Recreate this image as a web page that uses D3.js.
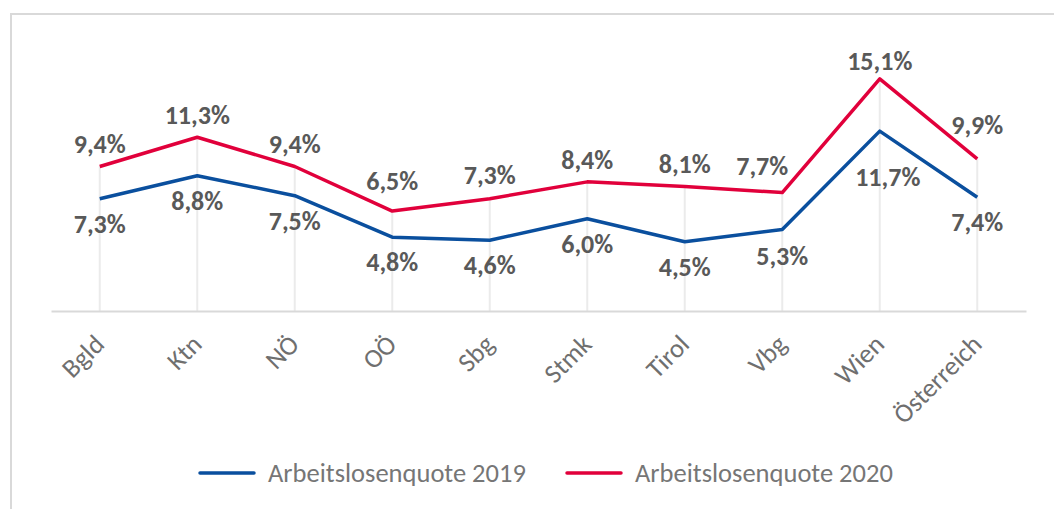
<!DOCTYPE html>
<html>
<head>
<meta charset="utf-8">
<script src="https://cdn.jsdelivr.net/npm/d3@7"></script>
<style>
  body { margin: 0; background: #fff; }
  svg { display: block; font-family: Carlito, Calibri, Lato, sans-serif; }
</style>
</head>
<body>
<div id="chart"></div>
<script>
var regionen = ["Bgld", "Ktn", "NÖ", "OÖ", "Sbg", "Stmk", "Tirol", "Vbg", "Wien", "Österreich"];
var quote2019 = [7.3, 8.8, 7.5, 4.8, 4.6, 6.0, 4.5, 5.3, 11.7, 7.4];
var quote2020 = [9.4, 11.3, 9.4, 6.5, 7.3, 8.4, 8.1, 7.7, 15.1, 9.9];
var serien = ["Arbeitslosenquote 2019", "Arbeitslosenquote 2020"];
var farben = ["#0a4f9e", "#e1003b"];

var W = 1054, H = 509;
var margin = {top: 65, left: 51, right: 28},
    axisY = 311;

// label nudges (dx, dy in px) where labels were moved by hand in the original
var nudge2019 = {"Wien": [8, 21], "Vbg": [0, 1]};
var nudge2020 = {"OÖ": [0, -8], "Sbg": [0, -2], "Vbg": [-20, -5], "Wien": [0, 4], "Österreich": [0, -12]};

var svg = d3.select("#chart").append("svg")
    .attr("width", W)
    .attr("height", H);

// chart frame
svg.append("rect")
    .attr("x", 11).attr("y", 14)
    .attr("width", 1100).attr("height", 600)
    .attr("fill", "none")
    .attr("stroke", "#d9d9d9")
    .attr("stroke-width", 2);

var x = d3.scaleBand()
    .domain(regionen)
    .range([margin.left, W - margin.right]);
var cx = function (c) { return x(c) + x.bandwidth() / 2; };

var y = d3.scaleLinear()
    .domain([0, 16])
    .range([axisY, margin.top]);

var rows = regionen.map(function (c, i) {
    return {cat: c, a: quote2019[i], b: quote2020[i]};
});

// drop lines
svg.append("g").selectAll("line")
    .data(rows)
    .enter().append("line")
    .attr("x1", function (d) { return cx(d.cat); })
    .attr("x2", function (d) { return cx(d.cat); })
    .attr("y1", function (d) { return y(Math.max(d.a, d.b)); })
    .attr("y2", axisY)
    .attr("stroke", "#ebebeb")
    .attr("stroke-width", 2);

// x axis
var xAxis = svg.append("g")
    .attr("transform", "translate(0," + axisY + ")")
    .call(d3.axisBottom(x).tickSize(0).tickSizeOuter(0));
xAxis.select(".domain")
    .attr("stroke", "#d9d9d9")
    .attr("stroke-width", 2);
xAxis.selectAll(".tick text")
    .attr("font-family", "Carlito, Calibri, Lato, sans-serif")
    .attr("font-size", 26.5)
    .attr("fill", "#6f6f6f")
    .attr("text-anchor", "end")
    .attr("dy", 0)
    .attr("y", 0)
    .attr("transform", "translate(6,35) rotate(-45)");

// lines
var line = d3.line()
    .x(function (d) { return cx(d.cat); })
    .y(function (d) { return y(d.v); });

[quote2019, quote2020].forEach(function (vals, s) {
    var pts = regionen.map(function (c, i) { return {cat: c, v: vals[i]}; });
    var nudge = s === 0 ? nudge2019 : nudge2020;
    var off = function (d, k) { return nudge[d.cat] ? nudge[d.cat][k] : 0; };

    svg.append("path")
        .datum(pts)
        .attr("fill", "none")
        .attr("stroke", farben[s])
        .attr("stroke-width", 3.5)
        .attr("stroke-linejoin", "round")
        .attr("d", line);

    svg.append("g").selectAll("text")
        .data(pts)
        .enter().append("text")
        .attr("x", function (d) { return cx(d.cat) + off(d, 0); })
        .attr("y", function (d) { return (s === 0 ? y(d.v) + 34 : y(d.v) - 13) + off(d, 1); })
        .attr("text-anchor", "middle")
        .attr("font-size", 26)
        .attr("font-weight", "bold")
        .attr("fill", "#595959")
        .text(function (d) { return d.v.toFixed(1).replace(".", ",") + "%"; });
});

// legend
var legX = [200, 567];
var leg = svg.append("g").selectAll("g")
    .data(serien)
    .enter().append("g")
    .attr("transform", function (d, i) { return "translate(" + legX[i] + ",473)"; });
leg.append("line")
    .attr("x1", 0).attr("x2", 54)
    .attr("stroke", function (d, i) { return farben[i]; })
    .attr("stroke-width", 3.5)
    .attr("stroke-linecap", "round");
leg.append("text")
    .attr("x", 68).attr("y", 9)
    .attr("font-size", 26.5)
    .attr("fill", "#767676")
    .text(function (d) { return d; });
</script>
</body>
</html>
